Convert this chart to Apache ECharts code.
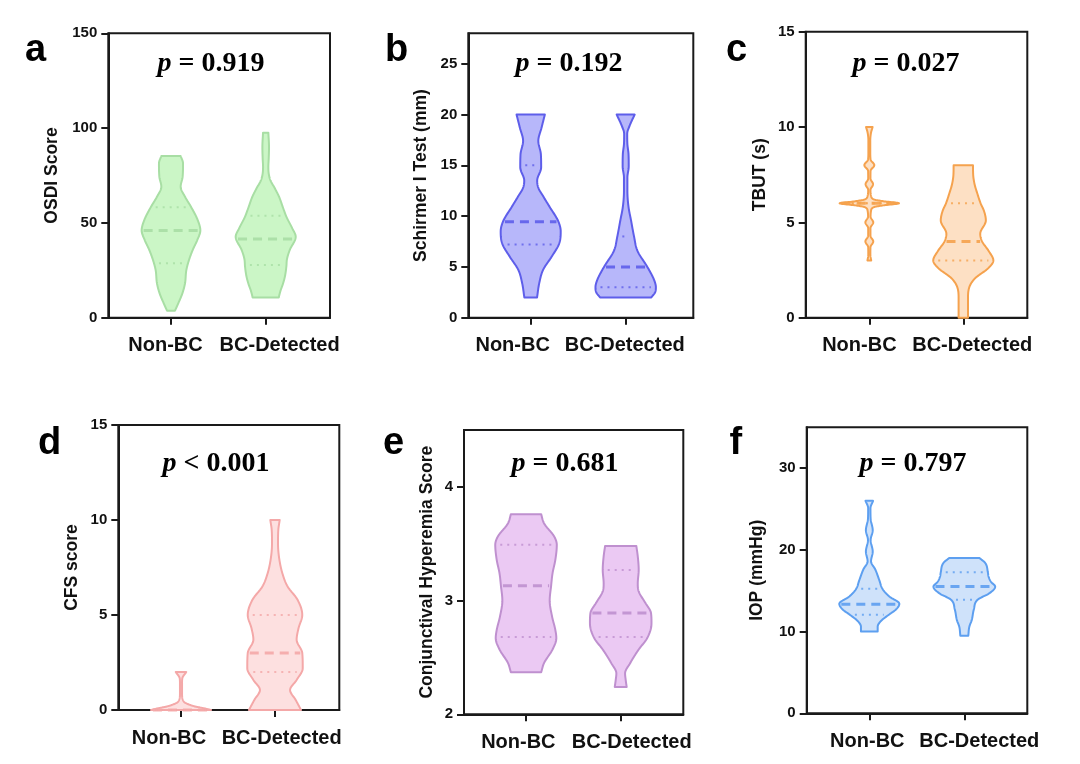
<!DOCTYPE html>
<html><head><meta charset="utf-8">
<script src="https://cdn.jsdelivr.net/npm/echarts@6/dist/echarts.min.js"></script>
<style>html,body{margin:0;padding:0;background:#fff}#c{width:1080px;height:764px}</style>
</head><body><div id="c"></div>
<script>
// ---------------- DATA ----------------
const categories = ['Non-BC', 'BC-Detected'];
const panelLetters = ['a', 'b', 'c', 'd', 'e', 'f'];
const pTexts = ['= 0.919', '= 0.192', '= 0.027', '< 0.001', '= 0.681', '= 0.797'];
const yNames = ['OSDI Score', 'Schirmer I Test (mm)', 'TBUT (s)', 'CFS score', 'Conjunctival Hyperemia Score', 'IOP (mmHg)'];
const yMins = [0, 0, 0, 0, 2, 0];
const yMaxs = [150, 28, 15, 15, 4.5, 35];
const yTicks = [[0, 50, 100, 150], [0, 5, 10, 15, 20, 25], [0, 5, 10, 15], [0, 5, 10, 15], [2, 3, 4], [0, 10, 20, 30]];

// violin profiles: value levels (y) and half-widths of the density (w)
const osdiNonY = [3.7, 7.6, 12.8, 18.1, 25.1, 30.4, 35.7, 41, 46, 51.5, 58.5, 63.8, 69.1, 74.4, 81.4, 85.3];
const osdiNonW = [0.042, 0.077, 0.12, 0.148, 0.162, 0.19, 0.229, 0.278, 0.31, 0.282, 0.211, 0.148, 0.102, 0.123, 0.127, 0.102];
const osdiBcY = [10.7, 14, 18, 22, 26.9, 31, 35.7, 42.7, 47, 53.3, 58, 63.8, 68, 72.6, 76, 79.6, 84, 90, 97.6];
const osdiBcW = [0.138, 0.155, 0.183, 0.204, 0.218, 0.225, 0.254, 0.317, 0.282, 0.218, 0.183, 0.141, 0.099, 0.049, 0.032, 0.028, 0.032, 0.035, 0.028];
const osdiMedian = [46, 41.5], osdiQ1 = [28.7, 27.8], osdiQ3 = [58.2, 53.8];

const schNonY = [2, 3.4, 4.7, 6.0, 7.3, 8.5, 9.5, 10.9, 11.9, 12.8, 13.5, 14.8, 16.1, 17.4, 18.7, 20];
const schNonW = [0.067, 0.09, 0.13, 0.22, 0.3, 0.316, 0.29, 0.2, 0.135, 0.08, 0.068, 0.11, 0.107, 0.08, 0.114, 0.149];
const schBcY = [2.0, 2.5, 3.0, 3.7, 5.0, 6.6, 8.0, 9.6, 10.9, 12.5, 13.8, 14.9, 16.1, 17.1, 18.1, 19.0, 20];
const schBcW = [0.27, 0.31, 0.318, 0.3, 0.228, 0.123, 0.088, 0.056, 0.03, 0.018, 0.018, 0.032, 0.03, 0.018, 0.016, 0.046, 0.095];
const schMedian = [9.45, 5.0], schQ1 = [7.2, 3.0], schQ3 = [15.0, 8.0];

const tbutNonY = [3.0, 3.3, 3.7, 4.0, 4.3, 4.7, 5.0, 5.3, 5.6, 5.8, 5.9, 6.0, 6.1, 6.2, 6.4, 6.7, 7.0, 7.3, 7.7, 8.0, 8.3, 8.7, 9.3, 9.7, 10.0];
const tbutNonW = [0.02, 0.011, 0.012, 0.042, 0.012, 0.012, 0.042, 0.013, 0.018, 0.05, 0.16, 0.316, 0.16, 0.05, 0.018, 0.012, 0.04, 0.012, 0.013, 0.053, 0.013, 0.01, 0.01, 0.018, 0.035];
const tbutBcY = [0, 0.5, 1.0, 1.6, 2.06, 2.6, 3.0, 3.5, 4.0, 4.4, 5.1, 5.6, 6.0, 6.5, 7.0, 7.5, 8];
const tbutBcW = [0.05, 0.05, 0.05, 0.064, 0.124, 0.266, 0.32, 0.27, 0.2, 0.18, 0.24, 0.22, 0.184, 0.15, 0.12, 0.105, 0.103];
const tbutMedian = [6, 4], tbutQ1 = [6, 3], tbutQ3 = [6, 6];

const cfsNonY = [0, 0.09, 0.175, 0.26, 0.39, 0.53, 0.88, 1.4, 1.67, 2.0];
const cfsNonW = [0.32, 0.245, 0.158, 0.1, 0.042, 0.02, 0.011, 0.011, 0.014, 0.056];
const cfsBcY = [0, 0.53, 1.05, 1.58, 2.2, 3.0, 3.7, 4.3, 5.0, 5.8, 6.5, 7.2, 8.07, 8.77, 9.47, 10];
const cfsBcW = [0.277, 0.22, 0.16, 0.23, 0.295, 0.29, 0.23, 0.25, 0.29, 0.24, 0.134, 0.078, 0.042, 0.032, 0.035, 0.05];
const cfsMedian = [0, 3], cfsQ1 = [0, 2], cfsQ3 = [0, 5];

const chsNonY = [2.37, 2.45, 2.57, 2.67, 2.74, 2.86, 3.0, 3.13, 3.24, 3.36, 3.49, 3.56, 3.68, 3.76];
const chsNonW = [0.16, 0.19, 0.28, 0.32, 0.31, 0.275, 0.25, 0.265, 0.28, 0.31, 0.325, 0.30, 0.19, 0.16];
const chsBcY = [2.24, 2.3, 2.36, 2.45, 2.57, 2.67, 2.8, 2.89, 2.98, 3.08, 3.15, 3.27, 3.39, 3.48];
const chsBcW = [0.063, 0.053, 0.046, 0.1, 0.19, 0.28, 0.325, 0.32, 0.26, 0.19, 0.18, 0.19, 0.18, 0.165];
const chsMedian = [3.13, 2.89], chsQ1 = [2.68, 2.68], chsQ3 = [3.49, 3.27];

const iopNonY = [10, 10.6, 11.3, 12.1, 12.7, 13.4, 14.3, 15.2, 16.3, 17.6, 18.6, 19.8, 21.2, 22.4, 23.8, 25.1, 26];
const iopNonW = [0.088, 0.088, 0.123, 0.21, 0.28, 0.316, 0.21, 0.14, 0.105, 0.063, 0.018, 0.036, 0.014, 0.036, 0.014, 0.012, 0.04];
const iopBcY = [9.5, 10.6, 11.4, 12.7, 13.9, 14.7, 15.5, 16.1, 16.75, 17.25, 18.4, 19];
const iopBcW = [0.042, 0.053, 0.078, 0.1, 0.14, 0.265, 0.325, 0.28, 0.255, 0.248, 0.22, 0.16];
const iopMedian = [13.36, 15.53], iopQ1 = [12.05, 13.9], iopQ3 = [15.24, 17.25];

// ---------------- STYLE / LAYOUT ----------------
const fills   = ['#cbf6c6', '#b7b7fa', '#fde0c4', '#fde0e0', '#ebc9f3', '#cfe2fa'];
const strokes = ['#a8dea4', '#5e5eea', '#f5a24e', '#f4a8a8', '#bf90cf', '#5d9ff0'];
const layout = [
  {left: 108.3, top: 33.3, width: 221.7, height: 284.4, xMin: 0.338, xMax: 2.679, lab: [-0.058, 0.147], gap: 47, lx: 25, ly: 63.3, px: 211, py: 64},
  {left: 468.3, top: 33.3, width: 225, height: 284.4, xMin: 0.343, xMax: 2.712, lab: [-0.19, -0.01], gap: 38, lx: 385, ly: 63.3, px: 569, py: 64},
  {left: 805.7, top: 31.7, width: 221.6, height: 286, xMin: 0.323, xMax: 2.681, lab: [-0.106, 0.095], gap: 36.7, lx: 726, ly: 63.3, px: 906, py: 64},
  {left: 118.3, top: 425, width: 221, height: 285, xMin: 0.333, xMax: 2.684, lab: [-0.128, 0.071], gap: 37.6, lx: 38, ly: 456.7, px: 216, py: 463.5},
  {left: 464, top: 430, width: 219.3, height: 284.3, xMin: 0.345, xMax: 2.661, lab: [-0.081, 0.116], gap: 28.3, lx: 383, ly: 456.7, px: 565, py: 463.5},
  {left: 806.7, top: 427.3, width: 220.6, height: 286, xMin: 0.341, xMax: 2.663, lab: [-0.021, 0.158], gap: 40.4, lx: 729.5, ly: 456.7, px: 913, py: 463.5}
];

const violinSets = [
  [[osdiNonY, osdiNonW], [osdiBcY, osdiBcW], osdiMedian, osdiQ1, osdiQ3],
  [[schNonY, schNonW], [schBcY, schBcW], schMedian, schQ1, schQ3],
  [[tbutNonY, tbutNonW], [tbutBcY, tbutBcW], tbutMedian, tbutQ1, tbutQ3],
  [[cfsNonY, cfsNonW], [cfsBcY, cfsBcW], cfsMedian, cfsQ1, cfsQ3],
  [[chsNonY, chsNonW], [chsBcY, chsBcW], chsMedian, chsQ1, chsQ3],
  [[iopNonY, iopNonW], [iopBcY, iopBcW], iopMedian, iopQ1, iopQ3]
];

// ---------------- HELPERS ----------------
function tangents(xs, ys) {
  const n = xs.length, d = [], t = new Array(n);
  for (let i = 0; i < n - 1; i++) d[i] = (ys[i + 1] - ys[i]) / (xs[i + 1] - xs[i]);
  t[0] = d[0]; t[n - 1] = d[n - 2];
  for (let i = 1; i < n - 1; i++) t[i] = (d[i - 1] * d[i] <= 0) ? 0 : (d[i - 1] + d[i]) / 2;
  for (let i = 0; i < n - 1; i++) {
    if (d[i] === 0) { t[i] = 0; t[i + 1] = 0; continue; }
    const a = t[i] / d[i], b = t[i + 1] / d[i], s = a * a + b * b;
    if (s > 9) { const tau = 3 / Math.sqrt(s); t[i] = tau * a * d[i]; t[i + 1] = tau * b * d[i]; }
  }
  return t;
}
function hermite(xs, ys, t, x) {
  const n = xs.length;
  if (x <= xs[0]) return ys[0];
  if (x >= xs[n - 1]) return ys[n - 1];
  let i = 0; while (i < n - 2 && x > xs[i + 1]) i++;
  const h = xs[i + 1] - xs[i], s = (x - xs[i]) / h;
  const s2 = s * s, s3 = s2 * s;
  return (2 * s3 - 3 * s2 + 1) * ys[i] + (s3 - 2 * s2 + s) * h * t[i] + (-2 * s3 + 3 * s2) * ys[i + 1] + (s3 - s2) * h * t[i + 1];
}

function makeRender(pi) {
  const set = violinSets[pi];
  return function (params, api) {
    const k = params.dataIndex;
    const ys = set[k][0], ws = set[k][1];
    const t = tangents(ys, ws);
    const cx = api.value(0);
    const right = [], left = [];
    for (let i = 0; i < ys.length - 1; i++) {
      const steps = 12;
      for (let j = 0; j < steps; j++) {
        const y = ys[i] + (ys[i + 1] - ys[i]) * j / steps;
        const w = Math.max(0.004, hermite(ys, ws, t, y));
        right.push(api.coord([cx + w, y]));
        left.push(api.coord([cx - w, y]));
      }
    }
    const yl = ys[ys.length - 1], wl = ws[ws.length - 1];
    right.push(api.coord([cx + wl, yl]));
    left.push(api.coord([cx - wl, yl]));
    const pts = right.concat(left.reverse());
    const children = [{
      type: 'polygon', shape: {points: pts},
      style: {fill: fills[pi], stroke: strokes[pi], lineWidth: 2, lineJoin: 'round'}
    }];
    const stats = [[set[2][k], true], [set[3][k], false], [set[4][k], false]];
    stats.forEach(([v, isMed]) => {
      const w = hermite(ys, ws, t, v);
      const p1 = api.coord([cx - w, v]), p2 = api.coord([cx + w, v]);
      const inset = isMed ? 2 : 5;
      if (p2[0] - p1[0] < 2 * inset + 2) return;
      children.push({
        type: 'line',
        shape: {x1: p1[0] + inset, y1: p1[1], x2: p2[0] - inset, y2: p2[1]},
        style: isMed
          ? {stroke: strokes[pi], lineWidth: 3, lineDash: [9, 6], opacity: 0.9}
          : {stroke: strokes[pi], lineWidth: 2, lineDash: [2, 5], opacity: 0.8}
      });
    });
    return {type: 'group', children};
  };
}

// ---------------- OPTION ----------------
const FONT = '"Liberation Sans", Arial, sans-serif';
const grid = [], xAxis = [], yAxis = [], series = [], graphic = [];
layout.forEach((L, i) => {
  grid.push({left: L.left, top: L.top, width: L.width, height: L.height, show: true, borderColor: '#1a1a1a', borderWidth: 2, backgroundColor: 'transparent', containLabel: false});
  xAxis.push({
    type: 'value', gridIndex: i, min: L.xMin, max: L.xMax,
    axisLine: {show: true, onZero: false, lineStyle: {color: '#1a1a1a', width: 2}},
    axisTick: {show: true, customValues: [1, 2], length: 7, lineStyle: {color: '#1a1a1a', width: 2}},
    axisLabel: {
      customValues: [1 + L.lab[0], 2 + L.lab[1]],
      formatter: v => categories[Math.round(v) - 1],
      fontSize: 20, fontWeight: 'bold', color: '#111', fontFamily: FONT, margin: 18
    },
    splitLine: {show: false}
  });
  yAxis.push({
    type: 'value', gridIndex: i, min: yMins[i], max: yMaxs[i],
    name: yNames[i], nameLocation: 'middle', nameGap: L.gap,
    nameTextStyle: {fontSize: 17.5, fontWeight: 'bold', color: '#111', fontFamily: FONT},
    axisLine: {show: true, onZero: false, lineStyle: {color: '#1a1a1a', width: 2}},
    axisTick: {show: true, customValues: yTicks[i], length: 7, lineStyle: {color: '#1a1a1a', width: 2}},
    axisLabel: {customValues: yTicks[i], fontSize: 15, fontWeight: 'bold', color: '#111', fontFamily: FONT, margin: 11},
    splitLine: {show: false}
  });
  series.push({
    type: 'custom', xAxisIndex: i, yAxisIndex: i,
    data: [[1, yMins[i]], [2, yMins[i]]],
    encode: {x: 0, y: 1},
    renderItem: makeRender(i),
    silent: true, z: 3
  });
  graphic.push({
    type: 'text', left: L.lx, top: L.ly - 32, z: 10,
    style: {text: panelLetters[i], font: 'bold 38px ' + FONT, fill: '#000'}
  });
  graphic.push({
    type: 'text', x: L.px, y: L.py, z: 10,
    style: {
      text: '{i|p} ' + pTexts[i],
      align: 'center', verticalAlign: 'middle',
      font: 'bold 28px "Liberation Serif", "Times New Roman", serif', fill: '#000',
      rich: {i: {fontStyle: 'italic', fontWeight: 'bold', fontSize: 28, fontFamily: '"Liberation Serif", "Times New Roman", serif'}}
    }
  });
});

const chart = echarts.init(document.getElementById('c'), null, {renderer: 'canvas'});
chart.setOption({animation: false, backgroundColor: '#fff', textStyle: {fontFamily: FONT}, grid, xAxis, yAxis, series, graphic});
</script></body></html>
